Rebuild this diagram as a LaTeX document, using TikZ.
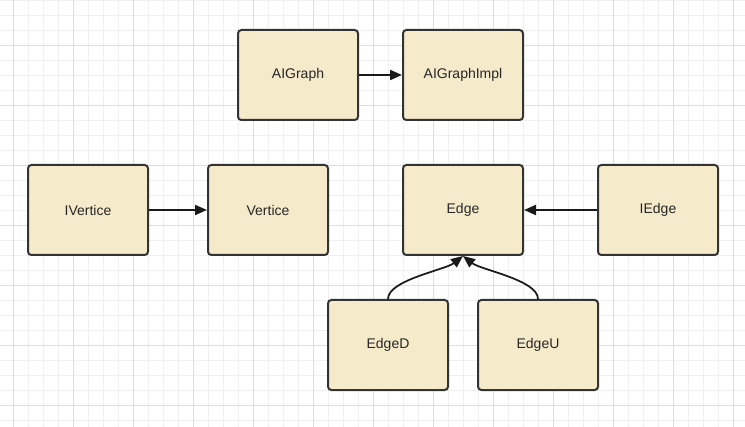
\documentclass[tikz,border=0pt]{standalone}
\usepackage{fontspec}
\setmainfont{Liberation Sans}
\usetikzlibrary{arrows.meta}
\definecolor{boxfill}{HTML}{F5EBCB}
\definecolor{boxdraw}{HTML}{333333}
\definecolor{gridminor}{HTML}{F0F0F0}
\definecolor{gridmajor}{HTML}{DEDEDE}
\tikzset{
  classbox/.style={draw=boxdraw, fill=boxfill, line width=1.5pt, rounded corners=2.5pt,
    minimum width=90pt, minimum height=67.5pt, inner sep=0pt, font=\fontsize{10.5}{12}\selectfont, text=black!85},
  link/.style={draw=black!90, line width=1.5pt, -{Triangle[length=9pt,width=7.5pt]}},
}
\begin{document}
\begin{tikzpicture}[x=0.75pt,y=-0.75pt]
\useasboundingbox (0,0) rectangle (745,427);
\fill[white] (0,0) rectangle (745,427);
\foreach \gx in {-2,13,...,745} \draw[gridminor, line width=0.6pt] (\gx,0) -- (\gx,427);
\foreach \gy in {0,15,...,427} \draw[gridminor, line width=0.6pt] (0,\gy) -- (745,\gy);
\foreach \gx in {13,73,...,745} \draw[gridmajor, line width=0.6pt] (\gx,0) -- (\gx,427);
\foreach \gy in {45,105,...,427} \draw[gridmajor, line width=0.6pt] (0,\gy) -- (745,\gy);

\node[classbox] (aigraph) at (298,75) {AIGraph};
\node[classbox] (aigraphimpl) at (463,75) {AIGraphImpl};
\node[classbox] (ivertice) at (88,210) {IVertice};
\node[classbox] (vertice) at (268,210) {Vertice};
\node[classbox] (edge) at (463,210) {Edge};
\node[classbox] (iedge) at (658,210) {IEdge};
\node[classbox] (edged) at (388,345) {EdgeD};
\node[classbox] (edgeu) at (538,345) {EdgeU};

\draw[link] (aigraph.east) -- (aigraphimpl.west);
\draw[link] (ivertice.east) -- (vertice.west);
\draw[link] (iedge.west) -- (edge.east);
\draw[link, line width=1.3pt] (edged.north) .. controls (388,280) and (445,270) .. (edge.south);
\draw[link, line width=1.3pt] (edgeu.north) .. controls (538,280) and (481,270) .. (edge.south);
\end{tikzpicture}
\end{document}
